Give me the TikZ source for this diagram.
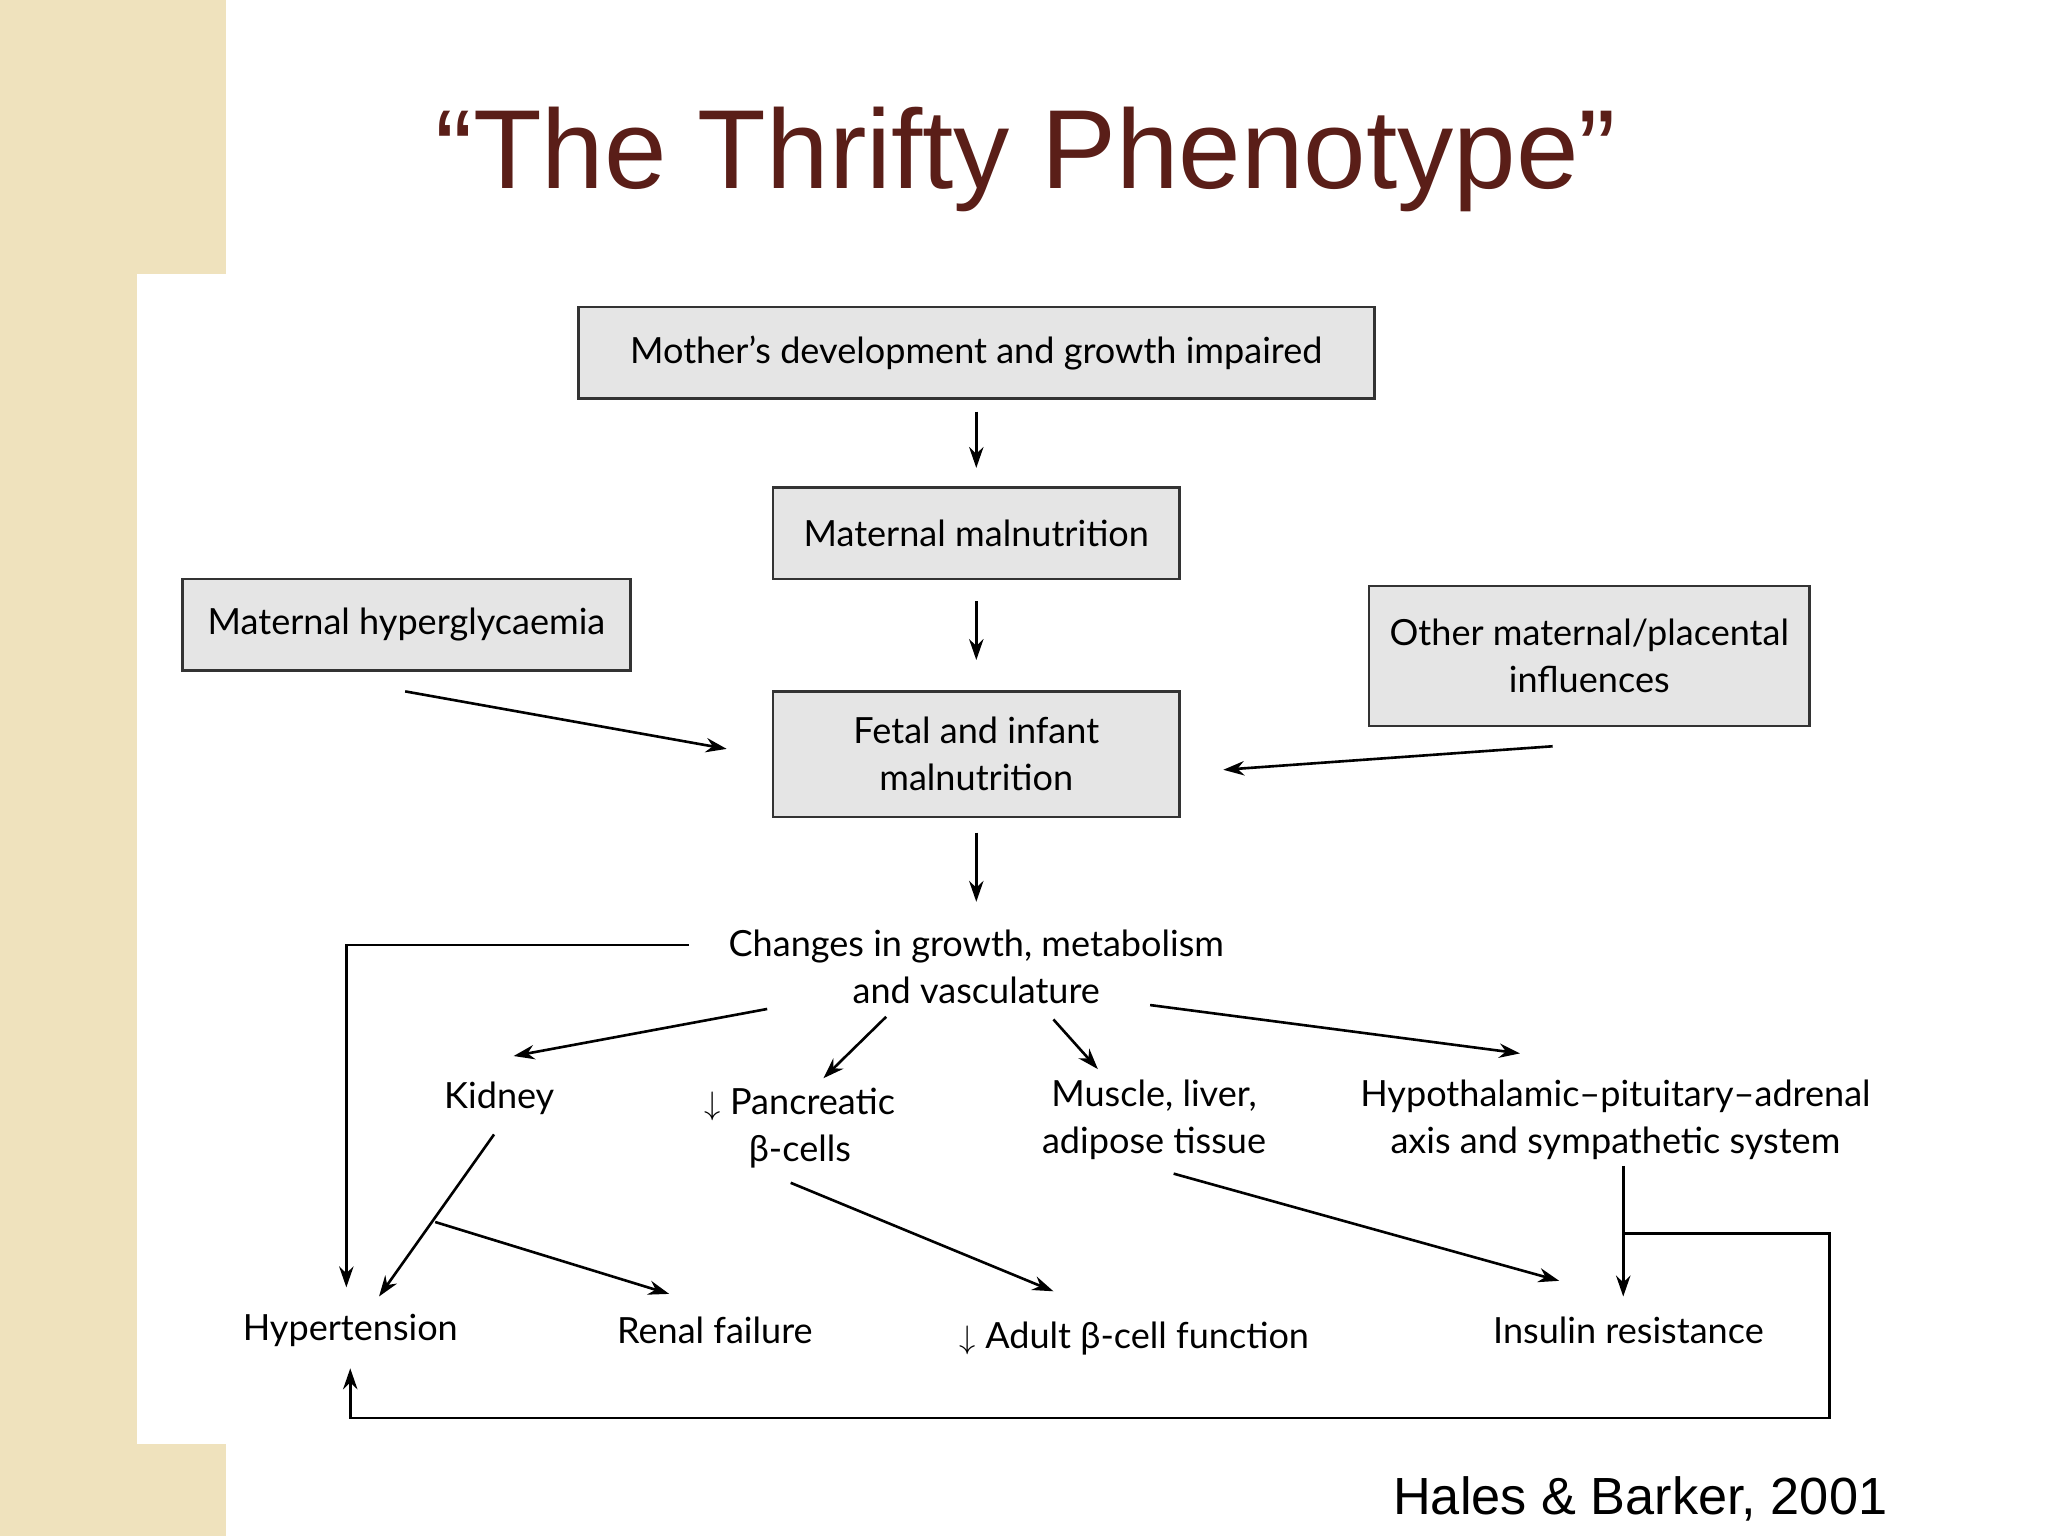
\documentclass[tikz,border=0pt]{standalone}
\usepackage{fontspec}
\setmainfont{Lato}
\newfontfamily\titlefont{Liberation Sans}
\usetikzlibrary{arrows.meta}
\definecolor{titlebrown}{HTML}{5A1E18}
\definecolor{beige}{HTML}{EFE2BD}
\begin{document}
\begin{tikzpicture}[x=1pt,y=-1pt,
  box/.style={draw=black!80,line width=2pt,fill=black!10,inner sep=0pt,align=center,font=\fontsize{27.6}{36}\selectfont},
  lbl/.style={align=center,font=\fontsize{27.6}{36}\selectfont},
  arr/.style={line width=2pt,-{Stealth[length=16pt,width=11pt]}}]
\useasboundingbox (0,0) rectangle (1567,1175);
\fill[white] (0,0) rectangle (1567,1175);
\fill[beige] (0,0) rectangle (173,1175);
\fill[white] (105,210) rectangle (1567,1105);
\node[font=\titlefont\fontsize{86}{100}\selectfont,text=titlebrown] (title) at (785,122) {“The Thrifty Phenotype”};
\node[box,minimum width=609pt,minimum height=70pt] (mother) at (747,270) {Mother's development and growth impaired};
\node[box,minimum width=311pt,minimum height=70pt] (mal) at (747,408) {Maternal malnutrition};
\node[box,minimum width=343pt,minimum height=70pt] (hyper) at (311,478) {Maternal hyperglycaemia};
\node[box,minimum width=337pt,minimum height=107pt] (other) at (1216,502) {Other maternal/placental\\influences};
\node[box,minimum width=311pt,minimum height=96pt] (fetal) at (747,577) {Fetal and infant\\malnutrition};
\node[lbl] (changes) at (747,740) {Changes in growth, metabolism\\and vasculature};
\node[lbl] (kidney) at (382,840) {Kidney};
\node[lbl] (panc) at (612,863) {$\downarrow$ Pancreatic\\β-cells};
\node[lbl] (muscle) at (883,857) {Muscle, liver,\\adipose tissue};
\node[lbl] (hpa) at (1236,857) {Hypothalamic–pituitary–adrenal\\axis and sympathetic system};
\node[lbl] (hyp) at (268,1018) {Hypertension};
\node[lbl] (renal) at (547,1018) {Renal failure};
\node[lbl] (adult) at (868,1024) {$\downarrow$ Adult β-cell function};
\node[lbl] (ins) at (1246,1018) {Insulin resistance};
\node[font=\titlefont\fontsize{40}{48}\selectfont] (cite) at (1255,1147) {Hales \& Barker, 2001};
\coordinate (a1) at (747,315); \coordinate (a2) at (747,358);
\coordinate (b1) at (747,460); \coordinate (b2) at (747,505);
\coordinate (c1) at (747,637); \coordinate (c2) at (747,690);
\draw[arr] (a1)--(a2); \draw[arr] (b1)--(b2); \draw[arr] (c1)--(c2);
\draw[arr] (310,529)--(556,573);
\draw[arr] (1188,571)--(936,589);
\draw[arr] (527,723)--(265,723)--(265,985);
\draw[arr] (587,772)--(393,808);
\draw[arr] (678,778)--(630,825);
\draw[arr] (806,780)--(840,818);
\draw[arr] (880,769)--(1163,806);
\draw[arr] (378,868)--(290,992);
\draw[arr] (333,935)--(512,990);
\draw[arr] (605,905)--(806,988);
\draw[arr] (898,898)--(1193,980);
\draw[arr] (1242,892)--(1242,992);
\draw[arr] (1242,944)--(1400,944)--(1400,1085)--(268,1085)--(268,1047);
\end{tikzpicture}
\end{document}
